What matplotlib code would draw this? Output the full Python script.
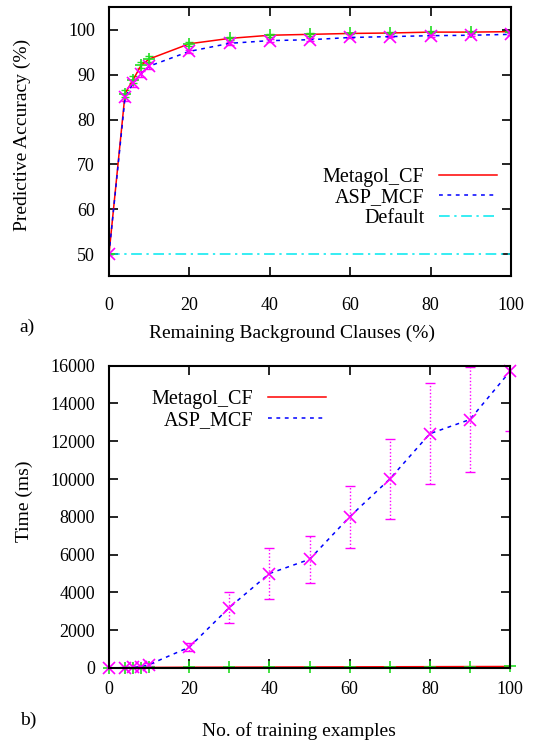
import matplotlib

matplotlib.use("Agg")

import matplotlib.pyplot as plt

plt.rcParams["font.family"] = ["Liberation Serif", "DejaVu Serif"]

RED = "#ff0000"
BLUE = "#0000ff"
CYAN = "#00e8f0"
GREEN = "#22dd22"
MAGENTA = "#ff00ff"

# panel a: accuracy vs remaining background clauses
clauses = [0, 4, 6, 8, 10, 20, 30, 40, 50, 60, 70, 80, 90, 100]
metagol_acc = [50.0, 85.8, 88.9, 92.1, 93.5, 96.9, 98.1, 98.8, 99.0, 99.2, 99.3, 99.5, 99.5, 99.6]
metagol_acc_err = [0.0, 0.8, 0.8, 0.7, 0.6, 0.4, 0.3, 0.3, 0.3, 0.2, 0.2, 0.2, 0.2, 0.2]
asp_acc = [50.0, 85.0, 88.1, 90.2, 91.9, 95.2, 97.0, 97.6, 97.8, 98.3, 98.5, 98.7, 98.8, 99.0]
asp_acc_err = [0.0, 0.8, 0.8, 0.7, 0.6, 0.4, 0.3, 0.3, 0.3, 0.2, 0.2, 0.2, 0.2, 0.2]
default_acc = [50.0] * len(clauses)

# panel b: time vs number of training examples
examples = [0, 4, 6, 8, 10, 20, 30, 40, 50, 60, 70, 80, 90, 100]
metagol_time = [10, 15, 20, 25, 30, 40, 45, 50, 55, 60, 65, 70, 75, 80]
asp_time = [0, 20, 30, 60, 180, 1100, 3200, 5000, 5750, 8000, 10000, 12400, 13150, 15700]
asp_time_err = [0, 10, 20, 40, 80, 200, 800, 1350, 1230, 1650, 2140, 2670, 2790, 3150]

W, H = 538, 745


def fx(px):
    return px / W


def fy(py):
    return 1 - py / H


def style_axis(ax, xpad, ypad):
    for spine in ax.spines.values():
        spine.set_linewidth(1.5)
    ax.tick_params(direction="in", top=True, right=True, length=6.5, width=1.2,
                   labelsize=13)
    ax.tick_params(axis="x", pad=xpad)
    ax.tick_params(axis="y", pad=ypad)


fig = plt.figure(figsize=(W / 100, H / 100), dpi=100)

# ---- panel a ----
ax1 = fig.add_axes([fx(109), fy(276), fx(511 - 109), (276 - 7) / H])
ax1.errorbar(clauses, metagol_acc, yerr=metagol_acc_err, fmt="none", ecolor=GREEN,
             elinewidth=1, capsize=3)
ax1.errorbar(clauses, asp_acc, yerr=asp_acc_err, fmt="none", ecolor=MAGENTA,
             elinewidth=1, capsize=3)
ax1.plot(clauses, metagol_acc, color=RED, linewidth=1.1, label="Metagol_CF")
ax1.plot(clauses, asp_acc, color=BLUE, linewidth=1.1, linestyle=(0, (2.5, 3)), label="ASP_MCF")
ax1.plot(clauses, default_acc, color=CYAN, linewidth=1.1, linestyle=(0, (7, 3, 1.5, 3)),
         label="Default")
ax1.plot(clauses, metagol_acc, linestyle="none", marker="+", ms=9, mew=1.2, color=GREEN)
ax1.plot(clauses, asp_acc, linestyle="none", marker="x", ms=8, mew=1.2, color=MAGENTA)
ax1.set_xlim(0, 100)
ax1.set_ylim(45.1, 105.1)
ax1.set_xticks([0, 20, 40, 60, 80, 100])
ax1.set_yticks([50, 60, 70, 80, 90, 100])
style_axis(ax1, 15, 10)
leg1 = ax1.legend(loc="center right", bbox_to_anchor=((497 - 109) / 402, (276 - 198) / 269),
                  frameon=False, markerfirst=False, fontsize=14.5, handlelength=2.9,
                  handletextpad=0.7, labelspacing=0.05, borderpad=0, borderaxespad=0)

fig.text(fx(22), fy(135), "Predictive Accuracy (%)", rotation=90, ha="center", va="center",
         fontsize=14)
fig.text(fx(292), fy(333), "Remaining Background Clauses (%)", ha="center", va="center",
         fontsize=14)
fig.text(fx(27), fy(327), "a)", ha="center", va="center", fontsize=14)

# ---- panel b ----
ax2 = fig.add_axes([fx(109), fy(668), fx(510 - 109), (668 - 365.7) / H])
eb = ax2.errorbar(examples, asp_time, yerr=asp_time_err, fmt="none", ecolor=MAGENTA,
                  elinewidth=1, capsize=3.5)
eb[2][0].set_linestyle((0, (1, 1.5)))
ax2.plot(examples, metagol_time, color=RED, linewidth=1.1, label="Metagol_CF")
ax2.plot(examples, asp_time, color=BLUE, linewidth=1.1, linestyle=(0, (2.5, 3)), label="ASP_MCF")
ax2.plot(examples, metagol_time, linestyle="none", marker="+", ms=9, mew=1.2, color=GREEN,
         clip_on=False)
ax2.plot(examples, asp_time, linestyle="none", marker="x", ms=9, mew=1.2, color=MAGENTA,
         clip_on=False)
ax2.set_xlim(0, 100)
ax2.set_ylim(0, 16000)
ax2.set_xticks([0, 20, 40, 60, 80, 100])
ax2.set_yticks(range(0, 16001, 2000))
style_axis(ax2, 9, 10)
leg2 = ax2.legend(loc="center right", bbox_to_anchor=((326 - 109) / 401, (668 - 410) / 302.3),
                  frameon=False, markerfirst=False, fontsize=14.5, handlelength=2.9,
                  handletextpad=0.7, labelspacing=0.05, borderpad=0, borderaxespad=0)

fig.text(fx(24), fy(501), "Time (ms)", rotation=90, ha="center", va="center", fontsize=14)
fig.text(fx(299), fy(731), "No. of training examples", ha="center", va="center", fontsize=14)
fig.text(fx(28), fy(720), "b)", ha="center", va="center", fontsize=14)

fig.savefig("out.png", dpi=100)
plt.close(fig)
